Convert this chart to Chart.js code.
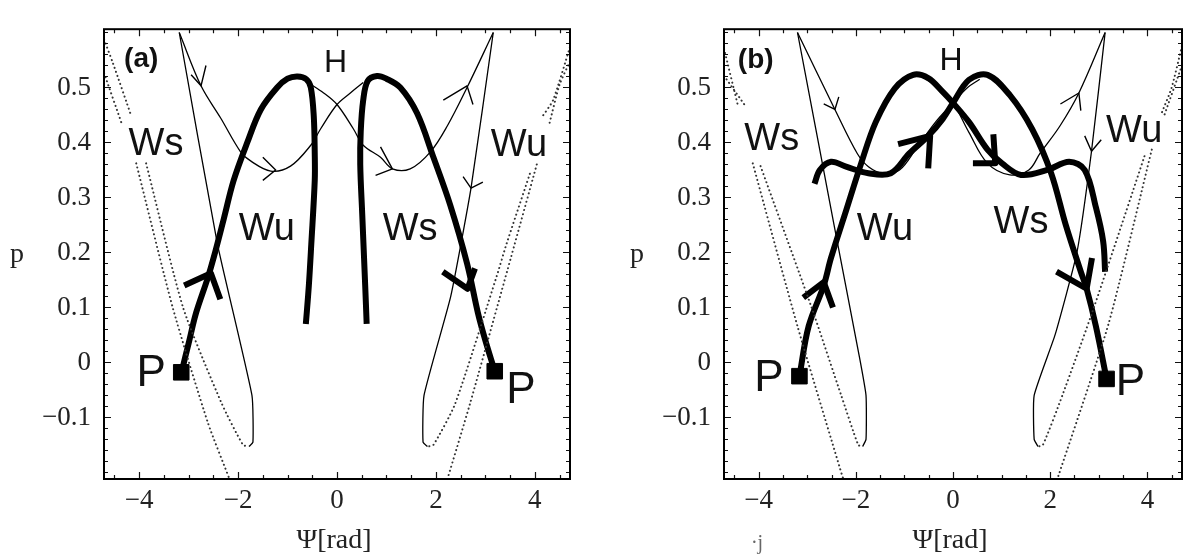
<!DOCTYPE html>
<html>
<head>
<meta charset="utf-8">
<script src="https://cdn.jsdelivr.net/npm/chart.js@4.4.1/dist/chart.umd.min.js"></script>
<style>
  html, body { margin: 0; padding: 0; background: #fff; }
  #wrap { position: relative; width: 1194px; height: 555px; }
  #chartA { position: absolute; left: 0; top: 0; }
  #chartB { position: absolute; left: 600px; top: 0; }
</style>
</head>
<body>
<div id="wrap">
  <canvas id="chartA" width="600" height="555"></canvas>
  <canvas id="chartB" width="594" height="555"></canvas>
</div>
<script>
// axes
const xRange = [-4.712, 4.712];
const yRange = [-0.212, 0.606];
const xMajor = [-4, -2, 0, 2, 4];
const yMajor = [-0.1, 0, 0.1, 0.2, 0.3, 0.4, 0.5];
const xMinor = [-4.5, -4, -3.5, -3, -2.5, -2, -1.5, -1, -0.5, 0, 0.5, 1, 1.5, 2, 2.5, 3, 3.5, 4, 4.5];
const yMinor = [-0.2, -0.18, -0.16, -0.14, -0.12, -0.1, -0.08, -0.06, -0.04, -0.02, 0,
  0.02, 0.04, 0.06, 0.08, 0.1, 0.12, 0.14, 0.16, 0.18, 0.2, 0.22, 0.24, 0.26, 0.28, 0.3,
  0.32, 0.34, 0.36, 0.38, 0.4, 0.42, 0.44, 0.46, 0.48, 0.5, 0.52, 0.54, 0.56, 0.58, 0.6];

// ---- panel (a) ----
const aThickLeft = [[-3.15, -0.02], [-3.0, 0.035], [-2.85, 0.09], [-2.62, 0.152], [-2.49, 0.192],
  [-2.29, 0.261], [-2.09, 0.331], [-1.81, 0.401], [-1.54, 0.46], [-1.21, 0.5], [-1.0, 0.516],
  [-0.8, 0.52], [-0.62, 0.515], [-0.53, 0.5], [-0.47, 0.448], [-0.45, 0.38], [-0.45, 0.331],
  [-0.52, 0.215], [-0.57, 0.139], [-0.63, 0.07]];
const aThickRight = [[3.19, -0.016], [3.0, 0.04], [2.85, 0.09], [2.63, 0.18], [2.29, 0.286],
  [1.95, 0.373], [1.62, 0.453], [1.28, 0.5], [1.0, 0.516], [0.81, 0.521], [0.62, 0.512],
  [0.53, 0.477], [0.48, 0.42], [0.47, 0.36], [0.51, 0.27], [0.57, 0.14], [0.6, 0.07]];
const aThinLeft = [[-3.19, 0.6], [-2.75, 0.503], [-2.35, 0.444], [-1.95, 0.383], [-1.74, 0.366],
  [-1.34, 0.348], [-0.94, 0.357], [-0.53, 0.395], [-0.33, 0.425], [0, 0.469], [0.27, 0.49], [0.53, 0.509]];
const aThinRight = [[3.16, 0.6], [2.63, 0.5], [2.23, 0.43], [1.89, 0.383], [1.48, 0.352],
  [1.12, 0.352], [0.88, 0.373], [0.53, 0.395], [0.33, 0.425], [0, 0.469], [-0.27, 0.49], [-0.59, 0.509]];
const aSteepLeft = [[-3.19, 0.6], [-2.42, 0.216], [-1.72, -0.06], [-1.7, -0.145], [-1.78, -0.153]];
const aSteepRight = [[3.16, 0.6], [2.71, 0.317], [2.3, 0.12], [1.76, -0.06], [1.74, -0.145], [1.83, -0.153]];
const aDotL1 = [[-4.71, 0.526], [-4.36, 0.436], null, [-4.06, 0.362], [-3.32, 0.099], [-2.61, -0.11], [-2.17, -0.213]];
const aDotL2 = [[-4.71, 0.587], [-4.53, 0.544], [-4.16, 0.448], null, [-3.86, 0.362], [-3.11, 0.099],
  [-2.33, -0.075], [-1.9, -0.15], [-1.78, -0.153]];
const aDotR1 = [[4.71, 0.547], [4.5, 0.505], [4.3, 0.436], null, [4.04, 0.36], [3.45, 0.169], [2.69, -0.075], [2.23, -0.213]];
const aDotR2 = [[4.71, 0.573], [4.37, 0.477], [4.16, 0.448], null, [3.9, 0.343], [3.43, 0.216], [3.23, 0.157],
  [2.39, -0.075], [1.95, -0.15], [1.83, -0.153]];
const aPoints = [[-3.15, -0.018], [3.19, -0.016]];
const aThickArrows = [
  [[-3.09, 0.14], [-2.55, 0.162], [-2.36, 0.115]],
  [[2.14, 0.165], [2.64, 0.134], [2.79, 0.171]]
];
const aThinArrows = [
  [[-2.95, 0.523], [-2.75, 0.503], [-2.65, 0.54]],
  [[-1.5, 0.373], [-1.24, 0.35], [-1.5, 0.331]],
  [[0.88, 0.392], [1.12, 0.352], [0.78, 0.34]],
  [[2.15, 0.477], [2.63, 0.503], [2.75, 0.469]],
  [[2.55, 0.338], [2.71, 0.317], [2.95, 0.328]]
];
const aLabels = [['(a)', -3.96, 0.552], ['H', -0.03, 0.544], ['Ws', -3.66, 0.397], ['Wu', 3.68, 0.395],
  ['Wu', -1.42, 0.242], ['Ws', 1.48, 0.242], ['P', -3.76, -0.021], ['P', 3.72, -0.051]];

// ---- panel (b) ----
const bThickLeft = [[-3.16, -0.025], [-2.97, 0.066], [-2.66, 0.14], [-2.51, 0.19], [-2.2, 0.276],
  [-1.89, 0.362], [-1.59, 0.437], [-1.2, 0.498], [-0.82, 0.523], [-0.51, 0.517], [-0.21, 0.492],
  [0, 0.472], [0.33, 0.437], [0.71, 0.387], [1.01, 0.362], [1.4, 0.341], [1.94, 0.35], [2.39, 0.365],
  [2.71, 0.35], [2.94, 0.282], [3.09, 0.22], [3.13, 0.165]];
const bThickRight = [[3.16, -0.03], [2.94, 0.066], [2.75, 0.134], [2.63, 0.165], [2.32, 0.25],
  [2.02, 0.344], [1.63, 0.424], [1.17, 0.486], [0.71, 0.523], [0.33, 0.514], [0, 0.472],
  [-0.21, 0.443], [-0.51, 0.412], [-0.9, 0.38], [-1.28, 0.344], [-1.74, 0.344], [-2.2, 0.356],
  [-2.51, 0.365], [-2.74, 0.35], [-2.85, 0.325]];
const bThinLeft = [[-3.2, 0.6], [-2.43, 0.46], [-1.97, 0.38], [-1.74, 0.356], [-1.44, 0.344], [-1.1, 0.35],
  [-0.75, 0.39], [-0.36, 0.437], [0, 0.472], [0.3, 0.5], [0.55, 0.515]];
const bThinRight = [[3.13, 0.6], [2.59, 0.49], [2.2, 0.43], [1.79, 0.38], [1.56, 0.35], [1.17, 0.341],
  [0.71, 0.362], [0.33, 0.418], [0, 0.472], [-0.3, 0.5], [-0.55, 0.515]];
const bSteepLeft = [[-3.2, 0.6], [-2.45, 0.251], [-1.93, 0.012], [-1.79, -0.06], [-1.79, -0.14], [-1.86, -0.153]];
const bSteepRight = [[3.13, 0.6], [2.85, 0.384], [2.55, 0.2], [2.1, 0.05], [1.67, -0.06], [1.67, -0.14], [1.75, -0.153]];
const bDotL1 = [[-4.71, 0.521], [-4.26, 0.465], null, [-4.12, 0.362], [-3.2, 0.066], [-2.28, -0.206], [-2.25, -0.213]];
const bDotL2 = [[-4.71, 0.57], [-4.42, 0.465], null, [-3.96, 0.357], [-2.91, 0.1], [-2.3, -0.06], [-1.95, -0.15], [-1.86, -0.153]];
const bDotR1 = [[4.71, 0.54], [4.35, 0.45], null, [4.09, 0.387], [3.2, 0.07], [2.17, -0.206], [2.14, -0.213]];
const bDotR2 = [[4.71, 0.575], [4.5, 0.5], [4.3, 0.455], null, [3.94, 0.375], [2.9, 0.1], [2.25, -0.06], [1.85, -0.15], [1.75, -0.153]];
const bPoints = [[-3.16, -0.025], [3.16, -0.03]];
const bThickArrows = [
  [[-3.08, 0.118], [-2.66, 0.146], [-2.47, 0.1]],
  [[0.41, 0.362], [0.87, 0.362], [0.83, 0.415]],
  [[-1.13, 0.397], [-0.47, 0.412], [-0.51, 0.353]],
  [[2.13, 0.165], [2.75, 0.134], [2.86, 0.19]]
];
const bThinArrows = [
  [[-2.66, 0.47], [-2.43, 0.46], [-2.35, 0.483]],
  [[2.21, 0.47], [2.59, 0.49], [2.63, 0.458]],
  [[2.71, 0.412], [2.85, 0.384], [3.05, 0.405]]
];
const bLabels = [['(b)', -4.06, 0.549], ['H', -0.04, 0.547], ['Ws', -3.73, 0.406], ['Wu', 3.73, 0.42],
  ['Wu', -1.4, 0.242], ['Ws', 1.4, 0.254], ['P', -3.79, -0.03], ['P', 3.65, -0.037]];

function toPoints(arr) {
  return arr.map((p) => (p ? { x: p[0], y: p[1] } : { x: null, y: null }));
}

function curve(arr, width, tension) {
  return {
    data: toPoints(arr),
    showLine: true,
    pointRadius: 0,
    borderColor: "#000",
    borderWidth: width,
    tension: tension,
    borderCapStyle: "butt",
    borderJoinStyle: "round",
    spanGaps: false,
  };
}

function dotted(arr) {
  return {
    ...curve(arr, 2, 0.2),
    borderColor: "#333",
    borderDash: [0.1, 4.2],
    borderCapStyle: "round",
  };
}

function markers(arr) {
  return {
    data: toPoints(arr),
    showLine: false,
    pointStyle: "rect",
    pointRadius: 11,
    backgroundColor: "#000",
    borderColor: "#000",
    borderWidth: 1,
  };
}

function fmt(v) {
  return v < 0 ? "\u2212" + String(-v) : String(v);
}

const decor = {
  id: "decor",
  afterDraw(chart, args, opts) {
    const { ctx, chartArea: a } = chart;
    const xs = chart.scales.x;
    const ys = chart.scales.y;
    ctx.save();
    ctx.strokeStyle = "#111";
    ctx.lineWidth = 1.2;
    ctx.beginPath();
    xMinor.forEach((v) => {
      const px = Math.round(xs.getPixelForValue(v)) + 0.5;
      const len = xMajor.includes(v) ? 7 : 4;
      ctx.moveTo(px, a.bottom);
      ctx.lineTo(px, a.bottom - len);
      ctx.moveTo(px, a.top);
      ctx.lineTo(px, a.top + len);
    });
    yMinor.forEach((v) => {
      const py = Math.round(ys.getPixelForValue(v)) + 0.5;
      const len = yMajor.includes(v) ? 7 : 4;
      ctx.moveTo(a.left, py);
      ctx.lineTo(a.left + len, py);
      ctx.moveTo(a.right, py);
      ctx.lineTo(a.right - len, py);
    });
    ctx.stroke();
    ctx.lineWidth = 2;
    ctx.strokeStyle = "#000";
    ctx.strokeRect(a.left, a.top, a.right - a.left, a.bottom - a.top);

    ctx.fillStyle = "#111";
    ctx.textAlign = "center";
    ctx.textBaseline = "middle";
    opts.labels.forEach(([text, lx, ly]) => {
      let font = '38px "Liberation Sans", Arial, sans-serif';
      if (text.startsWith("(")) font = 'bold 28px "Liberation Sans", Arial, sans-serif';
      else if (text === "H") font = '32px "Liberation Sans", Arial, sans-serif';
      else if (text === "P") font = '44px "Liberation Sans", Arial, sans-serif';
      ctx.font = font;
      ctx.fillText(text, xs.getPixelForValue(lx), ys.getPixelForValue(ly));
    });

    ctx.fillStyle = "#222";
    ctx.font = '28px "Liberation Serif", "Times New Roman", serif';
    ctx.textBaseline = "alphabetic";
    ctx.fillText("\u03A8[rad]", (a.left + a.right) / 2 - 3, 548);
    ctx.fillText("p", a.left - 87, 262);
    if (opts.extra) {
      // stray mark left of the (b) axis title
      ctx.fillStyle = "#666";
      ctx.font = '20px "Liberation Serif", serif';
      ctx.fillText(opts.extra, a.left + 33, 549);
    }
    ctx.restore();
  },
};

function buildChart(canvasId, datasets, labels, leftWidth, rightPad, extra) {
  const canvas = document.getElementById(canvasId);
  return new Chart(canvas, {
    type: "scatter",
    data: { datasets },
    options: {
      responsive: false,
      animation: false,
      events: [],
      layout: { padding: { top: 9, right: rightPad, left: 0, bottom: 0 } },
      plugins: {
        legend: { display: false },
        tooltip: { enabled: false },
        decor: { labels, extra },
      },
      scales: {
        x: {
          type: "linear",
          min: xRange[0],
          max: xRange[1],
          afterBuildTicks: (s) => { s.ticks = xMajor.map((v) => ({ value: v })); },
          afterFit: (s) => { s.height = 76; },
          grid: { display: false, drawTicks: false },
          border: { display: false },
          ticks: {
            autoSkip: false,
            maxRotation: 0,
            padding: 6,
            color: "#222",
            font: { family: '"Liberation Serif", "Times New Roman", serif', size: 27 },
            callback: (v) => fmt(v),
          },
        },
        y: {
          type: "linear",
          min: yRange[0],
          max: yRange[1],
          afterBuildTicks: (s) => { s.ticks = yMajor.map((v) => ({ value: v })); },
          afterFit: (s) => { s.width = leftWidth; },
          grid: { display: false, drawTicks: false },
          border: { display: false },
          ticks: {
            autoSkip: false,
            padding: 13,
            color: "#222",
            font: { family: '"Liberation Serif", "Times New Roman", serif', size: 27 },
            callback: (v) => fmt(v),
          },
        },
      },
    },
    plugins: [decor],
  });
}

const datasetsA = [
  dotted(aDotL1), dotted(aDotL2), dotted(aDotR1), dotted(aDotR2),
  curve(aSteepLeft, 1.3, 0.15), curve(aSteepRight, 1.3, 0.15),
  curve(aThinLeft, 1.3, 0.35), curve(aThinRight, 1.3, 0.35),
  ...aThinArrows.map((arw) => curve(arw, 1.4, 0)),
  curve(aThickLeft, 6, 0.35), curve(aThickRight, 6, 0.35),
  ...aThickArrows.map((arw) => curve(arw, 6, 0)),
  markers(aPoints),
];

const datasetsB = [
  dotted(bDotL1), dotted(bDotL2), dotted(bDotR1), dotted(bDotR2),
  curve(bSteepLeft, 1.3, 0.15), curve(bSteepRight, 1.3, 0.15),
  curve(bThinLeft, 1.3, 0.35), curve(bThinRight, 1.3, 0.35),
  ...bThinArrows.map((arw) => curve(arw, 1.4, 0)),
  curve(bThickLeft, 6, 0.35), curve(bThickRight, 6, 0.35),
  ...bThickArrows.map((arw) => curve(arw, 6, 0)),
  markers(bPoints),
];

buildChart("chartA", datasetsA, aLabels, 104, 30, null);
buildChart("chartB", datasetsB, bLabels, 124, 3, "\u00B7j");
</script>
</body>
</html>
